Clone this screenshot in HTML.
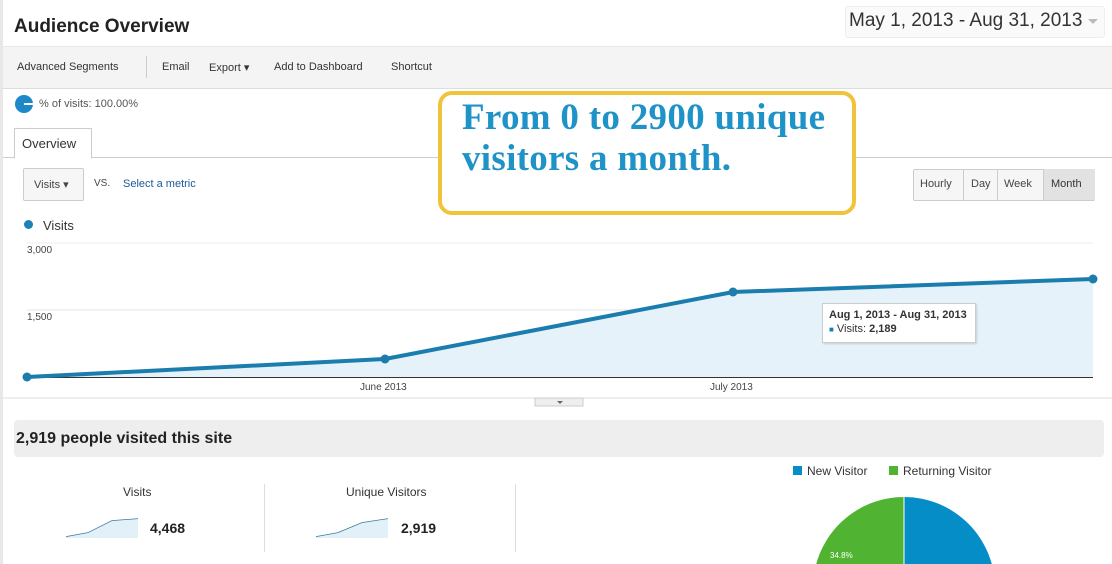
<!DOCTYPE html>
<html><head><meta charset="utf-8"><style>
body{margin:0;width:1112px;height:564px;overflow:hidden;background:#fff;font-family:"Liberation Sans",Arial,sans-serif;position:relative}
.a{position:absolute;white-space:nowrap}
</style></head><body>
<div class="a" style="left:0;top:0;width:3px;height:564px;background:#e8e8e8"></div>
<div class="a" style="left:14px;top:16px;font-size:19px;font-weight:bold;color:#222">Audience Overview</div>
<div class="a" style="left:845px;top:6px;width:258px;height:30px;border:1px solid #eee;border-radius:3px;background:#fafafa"></div>
<div class="a" style="left:849px;top:10px;font-size:19px;color:#333">May 1, 2013 - Aug 31, 2013</div>
<div class="a" style="left:1088px;top:19px;width:0;height:0;border-left:5px solid transparent;border-right:5px solid transparent;border-top:5px solid #bbb"></div>
<div class="a" style="left:3px;top:46px;width:1109px;height:41px;background:#f4f4f4;border-top:1px solid #e8e8e8;border-bottom:1px solid #ddd"></div>
<div class="a" style="left:17px;top:61px;font-size:11px;color:#333">Advanced Segments</div>
<div class="a" style="left:146px;top:56px;width:1px;height:22px;background:#ccc"></div>
<div class="a" style="left:162px;top:61px;font-size:11px;color:#333">Email</div>
<div class="a" style="left:209px;top:61px;font-size:11px;color:#333">Export &#9662;</div>
<div class="a" style="left:274px;top:61px;font-size:11px;color:#333">Add to Dashboard</div>
<div class="a" style="left:391px;top:61px;font-size:11px;color:#333">Shortcut</div>
<div class="a" style="left:15px;top:95px;width:18px;height:18px;border-radius:50%;background:#1e88c8"></div>
<div class="a" style="left:24px;top:103px;width:9px;height:2px;background:#fff"></div>
<div class="a" style="left:39px;top:98px;font-size:11px;color:#555">% of visits: 100.00%</div>
<div class="a" style="left:3px;top:157px;width:1109px;height:1px;background:#ccc"></div>
<div class="a" style="left:14px;top:128px;width:76px;height:29px;border:1px solid #ccc;border-bottom:1px solid #fff;background:#fff"></div>
<div class="a" style="left:22px;top:136px;font-size:13px;color:#333">Overview</div>
<div class="a" style="left:23px;top:168px;width:59px;height:31px;border:1px solid #ccc;border-radius:2px;background:#f6f6f6"></div>
<div class="a" style="left:34px;top:178px;font-size:11px;color:#444">Visits &#9662;</div>
<div class="a" style="left:94px;top:178px;font-size:10px;color:#444">VS.</div>
<div class="a" style="left:123px;top:178px;font-size:11px;color:#1a5a9a">Select a metric</div>
<div class="a" style="left:913px;top:169px;width:180px;height:30px;border:1px solid #ccc;border-radius:2px;background:#f6f6f6"></div>
<div class="a" style="left:963px;top:169px;width:1px;height:31px;background:#ccc"></div>
<div class="a" style="left:997px;top:169px;width:1px;height:31px;background:#ccc"></div>
<div class="a" style="left:1043px;top:169px;width:51px;height:31px;background:#e2e2e2;border-left:1px solid #ccc"></div>
<div class="a" style="left:920px;top:178px;font-size:11px;color:#444">Hourly</div>
<div class="a" style="left:971px;top:178px;font-size:11px;color:#444">Day</div>
<div class="a" style="left:1004px;top:178px;font-size:11px;color:#444">Week</div>
<div class="a" style="left:1051px;top:178px;font-size:11px;color:#333">Month</div>
<div class="a" style="left:24px;top:220px;width:9px;height:9px;border-radius:50%;background:#1c82b8"></div>
<div class="a" style="left:43px;top:218px;font-size:13px;color:#333">Visits</div>
<svg class="a" style="left:0;top:0" width="1112" height="564">
<line x1="27" y1="243" x2="1093" y2="243" stroke="#eee"/>
<line x1="27" y1="310" x2="1093" y2="310" stroke="#e4e4e4"/>
<polygon points="27,377 385,359 733,292 1093,279 1093,377" fill="#e6f2f9"/>
<line x1="27" y1="377.5" x2="1093" y2="377.5" stroke="#333"/>
<polyline points="27,377 385,359 733,292 1093,279" fill="none" stroke="#1b7dae" stroke-width="4"/>
<circle cx="385" cy="359" r="4.5" fill="#1b7dae"/><circle cx="733" cy="292" r="4.5" fill="#1b7dae"/><circle cx="1093" cy="279" r="4.5" fill="#1b7dae"/>
<circle cx="27" cy="377" r="4.5" fill="#1b7dae"/>
<line x1="3" y1="398" x2="1112" y2="398" stroke="#ddd"/>
<rect x="535" y="398" width="48" height="8" fill="#eee" stroke="#ccc"/>
<path d="M557 401 l3 3 l3 -3z" fill="#666"/>
<path d="M904 497 A91 91 0 0 1 995 588 L904 588Z" fill="#058dc7"/>
<path d="M904 497 A91 91 0 0 0 813 588 L904 588Z" fill="#50b432"/>
<line x1="904" y1="497" x2="904" y2="564" stroke="#fff"/>
<polyline points="66,537 88,533 112,521 138,519" fill="none" stroke="#3a7aa0" stroke-width="1.5"/>
<polygon points="66,537 88,533 112,521 138,519 138,538 66,538" fill="#e2f0f8"/>
<polyline points="316,537 338,533 362,523 388,519" fill="none" stroke="#3a7aa0" stroke-width="1.5"/>
<polygon points="316,537 338,533 362,523 388,519 388,538 316,538" fill="#e2f0f8"/>
</svg>
<div class="a" style="left:27px;top:245px;font-size:10px;color:#444">3,000</div>
<div class="a" style="left:27px;top:312px;font-size:10px;color:#444">1,500</div>
<div class="a" style="left:360px;top:382px;font-size:10px;color:#444">June 2013</div>
<div class="a" style="left:710px;top:382px;font-size:10px;color:#444">July 2013</div>
<div class="a" style="left:822px;top:303px;width:152px;height:38px;border:1px solid #ccc;background:#fff;box-shadow:1px 1px 2px rgba(0,0,0,.15)"></div>
<div class="a" style="left:829px;top:309px;font-size:11px;font-weight:bold;color:#333">Aug 1, 2013 - Aug 31, 2013</div>
<div class="a" style="left:829px;top:323px;font-size:11px;color:#333"><span style="color:#1b7dae;font-size:8px">&#9632;</span> Visits: <b>2,189</b></div>
<div class="a" style="left:438px;top:91px;width:410px;height:116px;border:4px solid #f0c43a;border-radius:14px;background:#fff"></div>
<div class="a" style="left:462px;top:97px;font-family:'Liberation Serif',serif;font-weight:bold;font-size:37px;line-height:41px;color:#1f93c8;letter-spacing:0.3px">From 0 to 2900 unique<br>visitors a month.</div>
<div class="a" style="left:14px;top:420px;width:1090px;height:37px;background:#eee;border-radius:4px"></div>
<div class="a" style="left:16px;top:430px;font-size:16px;font-weight:bold;color:#222">2,919 people visited this site</div>
<div class="a" style="left:123px;top:485px;font-size:12px;color:#333">Visits</div>
<div class="a" style="left:346px;top:485px;font-size:12px;color:#333">Unique Visitors</div>
<div class="a" style="left:150px;top:520px;font-size:14px;font-weight:bold;color:#222">4,468</div>
<div class="a" style="left:401px;top:520px;font-size:14px;font-weight:bold;color:#222">2,919</div>
<div class="a" style="left:264px;top:484px;width:1px;height:68px;background:#ddd"></div>
<div class="a" style="left:515px;top:484px;width:1px;height:68px;background:#ddd"></div>
<div class="a" style="left:793px;top:466px;width:9px;height:9px;background:#058dc7"></div>
<div class="a" style="left:807px;top:464px;font-size:12px;color:#333">New Visitor</div>
<div class="a" style="left:889px;top:466px;width:9px;height:9px;background:#50b432"></div>
<div class="a" style="left:903px;top:464px;font-size:12px;color:#333">Returning Visitor</div>
<div class="a" style="left:830px;top:551px;font-size:8px;color:#fff">34.8%</div>
</body></html>
